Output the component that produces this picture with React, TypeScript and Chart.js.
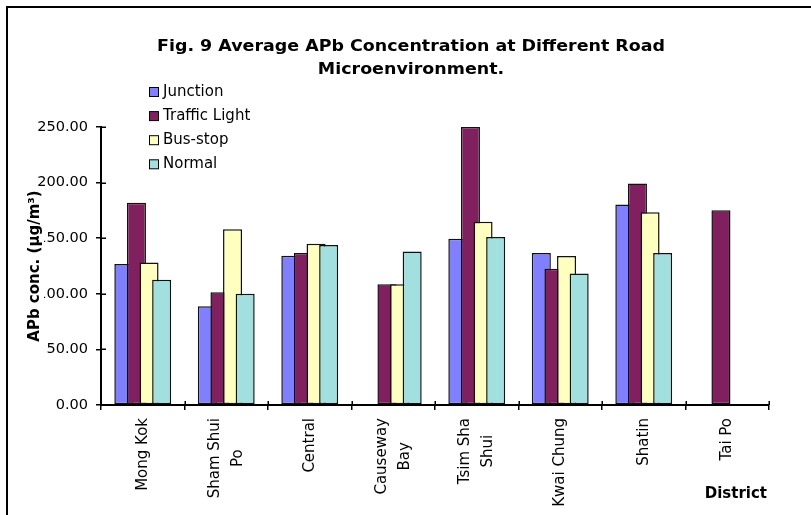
import React, { useEffect, useRef } from "react";
import { Chart, registerables } from "chart.js";

Chart.register(...registerables);

// ---------- data ----------
const categories = ["Mong Kok", "Sham Shui Po", "Central", "Causeway Bay", "Tsim Sha Shui", "Kwai Chung", "Shatin", "Tai Po"];
const categoryLines = [["Mong Kok"], ["Sham Shui", "Po"], ["Central"], ["Causeway", "Bay"], ["Tsim Sha", "Shui"], ["Kwai Chung"], ["Shatin"], ["Tai Po"]];
const seriesNames = ["Junction", "Traffic Light", "Bus-stop", "Normal"];
const junction = [126.7, 88.7, 134.3, null, 149.5, 136.6, 180.3, null];
const trafficLight = [181.8, 101.5, 136.7, 108.7, 250, 122.5, 199.2, 175.2];
const busStop = [128.2, 158.1, 145.1, 108.7, 164.7, 133.9, 173.4, null];
const normal = [112.6, 100, 143.9, 138.1, 151, 118.3, 136.6, null];
const seriesColors = ["#8080ff", "#80205f", "#ffffc0", "#a2e0e0"];
const yMin = 0;
const yMax = 250;
const yStep = 50;
const titleLines = ["Fig. 9 Average APb Concentration at Different Road", "Microenvironment."];
const yTitle = "APb conc. (\u00b5g/m\u00b3)";
const xTitle = "District";

const FONT = "'DejaVu Sans', 'Noto Sans', sans-serif";

const decor = {
  id: "decor",
  beforeDraw(chart: any) {
    const ctx = chart.ctx;
    ctx.save();
    ctx.fillStyle = "#fff";
    ctx.fillRect(0, 0, chart.width, chart.height);
    ctx.fillStyle = "#000";
    ctx.fillRect(6, 6, chart.width - 6, 2);
    ctx.fillRect(6, 6, 2, chart.height - 6);
    ctx.restore();
  },
  beforeDatasetsDraw(chart: any) {
    // later series drawn on top of earlier ones (overlapping bars)
    for (let i = 0; i < chart.data.datasets.length; i++) {
      const meta = chart.getDatasetMeta(i);
      if (chart.isDatasetVisible(i)) meta.controller.draw();
    }
    return false;
  },
  afterDraw(chart: any) {
    const ctx = chart.ctx;
    const xs = chart.scales.x;
    const ys = chart.scales.y;
    const area = chart.chartArea;
    ctx.save();
    ctx.fillStyle = "#000";
    ctx.strokeStyle = "#000";

    // inner halves of tick marks (ticks cross the axes)
    ctx.lineWidth = 1.5;
    ctx.beginPath();
    for (let v = yMin; v <= yMax; v += yStep) {
      const y = Math.round(ys.getPixelForValue(v)) + 0.25;
      ctx.moveTo(area.left, y);
      ctx.lineTo(area.left + 5, y);
    }
    for (let i = 0; i <= categories.length; i++) {
      const x = Math.round(xs.getPixelForValue(i - 0.5)) + 0.25;
      ctx.moveTo(x, area.bottom);
      ctx.lineTo(x, area.bottom - 4);
    }
    ctx.stroke();

    // title
    ctx.font = `bold 15px ${FONT}`;
    ctx.textAlign = "center";
    ctx.textBaseline = "alphabetic";
    const w1 = ctx.measureText(titleLines[0]).width;
    const sx = 508 / w1;
    [50.7, 73.5].forEach((by, i) => {
      ctx.save();
      ctx.translate(411, by);
      ctx.scale(sx, 1);
      ctx.fillText(titleLines[i], 0, 0);
      ctx.restore();
    });

    // legend
    ctx.font = `15px ${FONT}`;
    ctx.textAlign = "left";
    seriesNames.forEach((name, i) => {
      const cy = 92 + i * 24.1;
      ctx.fillStyle = seriesColors[i];
      ctx.fillRect(149, cy - 4.5, 9, 9);
      ctx.lineWidth = 1;
      ctx.strokeStyle = "#000";
      ctx.strokeRect(149.5, cy - 4.5, 9, 9);
      ctx.fillStyle = "#000";
      ctx.fillText(name, 163, cy + 3.6);
    });

    // y axis title (with white background)
    ctx.font = `bold 15px ${FONT}`;
    const wy = ctx.measureText(yTitle).width;
    const cyT = (area.top + area.bottom) / 2;
    ctx.fillStyle = "#fff";
    ctx.fillRect(26, cyT - wy / 2 - 1, 18, wy + 2);
    ctx.fillStyle = "#000";
    ctx.save();
    ctx.translate(38.5, cyT);
    ctx.rotate(-Math.PI / 2);
    ctx.textAlign = "center";
    ctx.fillText(yTitle, 0, 0);
    ctx.restore();

    // x category labels (rotated, lines centred in block)
    ctx.font = `15px ${FONT}`;
    const lineGap = 23;
    categoryLines.forEach((lines, i) => {
      const c = xs.getPixelForValue(i);
      const W = Math.max(...lines.map((l) => ctx.measureText(l).width));
      const n = lines.length;
      lines.forEach((line, k) => {
        const bx = c + 4 + (k - (n - 1) / 2) * lineGap;
        ctx.save();
        ctx.translate(bx, area.bottom + 13 + W / 2);
        ctx.rotate(-Math.PI / 2);
        ctx.textAlign = "center";
        ctx.fillText(line, 0, 0);
        ctx.restore();
      });
    });

    // x axis title
    ctx.font = `bold 15px ${FONT}`;
    ctx.textAlign = "right";
    ctx.fillText(xTitle, 767, 498);

    ctx.restore();
  },
};

export default function App() {
  const ref = useRef<HTMLCanvasElement>(null);
  useEffect(() => {
    document.body.style.margin = "0";
    const data = [junction, trafficLight, busStop, normal];
    const chart = new Chart(ref.current as HTMLCanvasElement, {
      type: "bar",
      data: {
        labels: categories,
        datasets: seriesNames.map((name, i) => ({
          label: name,
          data: data[i],
          backgroundColor: seriesColors[i],
          borderColor: "#111",
          borderWidth: 1.5,
          borderSkipped: false,
          categoryPercentage: 0.604,
          barPercentage: 1.51,
        })),
      },
      options: {
        responsive: false,
        animation: false,
        events: [],
        layout: { padding: { left: 0, top: 127, right: 42, bottom: 90 } },
        plugins: {
          legend: { display: false },
          title: { display: false },
          tooltip: { enabled: false },
        },
        scales: {
          x: {
            type: "category",
            offset: true,
            ticks: { display: false },
            grid: { offset: true, drawOnChartArea: false, drawTicks: true, tickLength: 5, color: "#000", lineWidth: 1.5 },
            border: { display: true, color: "#000", width: 2, z: 1 },
            afterFit: (s: any) => {
              s.height = 20;
            },
          },
          y: {
            min: yMin,
            max: yMax,
            ticks: {
              stepSize: yStep,
              callback: (v: any) => Number(v).toFixed(2),
              font: { family: FONT, size: 14.5 },
              color: "#000",
              padding: 8,
            },
            grid: { drawOnChartArea: false, drawTicks: true, tickLength: 5, color: "#000", lineWidth: 1.5 },
            border: { display: true, color: "#000", width: 2, z: 1 },
            afterFit: (s: any) => {
              s.width = 101;
            },
          },
        },
      },
      plugins: [decor],
    } as any);
    return () => chart.destroy();
  }, []);
  return (
    <div style={{ width: 811, height: 515, background: "#fff" }}>
      <canvas ref={ref} width={811} height={515} style={{ display: "block" }} />
    </div>
  );
}
